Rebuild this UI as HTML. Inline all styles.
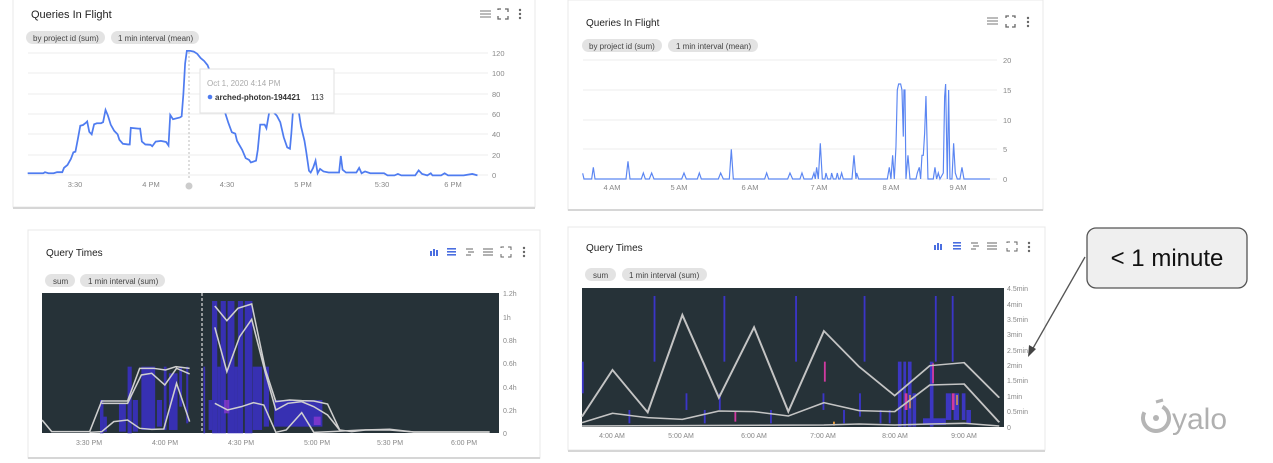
<!DOCTYPE html>
<html><head><meta charset="utf-8"><style>
html,body{margin:0;padding:0;background:#fff;}
svg{display:block;font-family:"Liberation Sans",sans-serif;}
</style></head><body>
<svg width="1273" height="463" viewBox="0 0 1273 463" xmlns="http://www.w3.org/2000/svg">
<rect width="1273" height="463" fill="#fff"/>

<!-- ========== Panel 1 ========== -->
<rect x="13" y="-2" width="522" height="209" fill="#fff" stroke="#e8e8e8"/>
<line x1="13" y1="208" x2="535" y2="208" stroke="#d6d6d6" stroke-width="2"/>
<text x="31" y="18" font-size="11" fill="#222">Queries In Flight</text>
<path d="M480 11h11M480 14h11M480 17h11" stroke="#777" stroke-width="1"/>
<g stroke="#666" fill="none" stroke-width="1.3"><path d="M498 10v-1h3M505 9h3v3M508 16v3h-3M501 19h-3v-3"/></g>
<g fill="#666"><circle cx="520" cy="10" r="1.2"/><circle cx="520" cy="14" r="1.2"/><circle cx="520" cy="18" r="1.2"/></g>
<rect x="26" y="31" width="79" height="13" rx="6.5" fill="#e3e3e3"/>
<text x="33" y="41" font-size="8" fill="#444">by project id (sum)</text>
<rect x="111" y="31" width="88" height="13" rx="6.5" fill="#e3e3e3"/>
<text x="118" y="41" font-size="8" fill="#444">1 min interval (mean)</text>
<g stroke="#eee" stroke-width="1">
<line x1="28" y1="53" x2="488" y2="53"/><line x1="28" y1="73" x2="488" y2="73"/><line x1="28" y1="94" x2="488" y2="94"/><line x1="28" y1="114" x2="488" y2="114"/><line x1="28" y1="134" x2="488" y2="134"/><line x1="28" y1="155" x2="488" y2="155"/><line x1="28" y1="175" x2="488" y2="175"/>
</g>
<g font-size="7.5" fill="#888">
<text x="492" y="56">120</text><text x="492" y="76">100</text><text x="492" y="97">80</text><text x="492" y="117">60</text><text x="492" y="137">40</text><text x="492" y="158">20</text><text x="492" y="178">0</text>
<text x="75" y="187" text-anchor="middle">3:30</text><text x="151" y="187" text-anchor="middle">4 PM</text><text x="227" y="187" text-anchor="middle">4:30</text><text x="303" y="187" text-anchor="middle">5 PM</text><text x="382" y="187" text-anchor="middle">5:30</text><text x="453" y="187" text-anchor="middle">6 PM</text>
</g>
<line x1="189" y1="52" x2="189" y2="178" stroke="#bbb" stroke-dasharray="2,2"/>
<circle cx="189" cy="186" r="3.5" fill="#ccc"/>
<g transform="matrix(0.346,0,0,0.3599,0,-13.9)">
<polyline fill="none" stroke="#4f7cf0" stroke-width="5" points="80,520 125,520 130,517 140,520 155,520 165,517 180,517 185,505 195,497 205,480 212,462 218,460 225,425 232,388 240,386 248,380 252,376 258,405 265,412 272,384 280,381 292,381 298,378 305,344 312,360 320,385 330,402 340,412 345,427 355,438 370,440 375,440 378,394 400,396 405,396 410,432 420,440 435,441 440,445 450,432 465,430 480,433 487,443 492,358 500,370 520,365 525,362 530,300 535,215 540,180 550,180 560,182 570,188 580,200 590,208 600,220 620,270 640,320 650,350 660,380 670,406 680,410 685,430 700,455 710,478 720,483 725,490 740,485 745,455 752,385 765,385 770,395 780,340 790,350 800,360 810,378 820,420 830,448 838,452 842,410 848,330 855,310 862,340 870,390 880,430 885,460 893,513 898,518 905,505 912,485 918,520 925,508 935,515 950,518 980,518 985,472 990,510 1000,518 1030,518 1038,505 1045,520 1055,515 1070,520 1110,520 1120,526 1140,526 1150,522 1160,526 1200,526 1210,512 1220,522 1235,526 1245,520 1250,526 1275,526 1285,520 1295,526 1340,526 1365,522 1380,526"/>
</g>
<rect x="200" y="69" width="134" height="44" fill="#fff" stroke="#e2e2e2"/>
<text x="207" y="86" font-size="8" fill="#aaa">Oct 1, 2020 4:14 PM</text>
<circle cx="210" cy="97" r="2.3" fill="#4f7cf0"/>
<text x="215" y="100" font-size="8" fill="#333" font-weight="bold">arched-photon-194421</text>
<text x="311" y="100" font-size="8" fill="#333">113</text>

<!-- ========== Panel 2 ========== -->
<rect x="28" y="230" width="512" height="228" fill="#fff" stroke="#e8e8e8"/>
<line x1="28" y1="458" x2="540" y2="458" stroke="#d6d6d6" stroke-width="2"/>
<text x="46" y="256" font-size="10" fill="#222">Query Times</text>
<g fill="#4a6ee0"><rect x="430" y="251" width="2" height="5"/><rect x="433" y="249" width="2" height="7"/><rect x="436" y="250" width="2" height="6"/><rect x="447" y="248" width="9" height="1.6"/><rect x="447" y="251" width="9" height="1.6"/><rect x="447" y="254" width="9" height="1.6"/></g>
<g stroke="#666" stroke-width="1" fill="none"><path d="M466 249h7M468 252h6M466 255h5M483 249h10M483 252h10M483 255h10"/><path d="M501 248v-1h3M508 247h3v3M511 254v3h-3M504 257h-3v-3"/></g>
<g fill="#666"><circle cx="524" cy="248" r="1.2"/><circle cx="524" cy="252" r="1.2"/><circle cx="524" cy="256" r="1.2"/></g>
<rect x="45" y="274" width="30" height="13" rx="6.5" fill="#e3e3e3"/><text x="53" y="284" font-size="8" fill="#444">sum</text>
<rect x="80" y="274" width="85" height="13" rx="6.5" fill="#e3e3e3"/><text x="88" y="284" font-size="8" fill="#444">1 min interval (sum)</text>
<rect x="42" y="293" width="457" height="140" fill="#263238"/>
<g font-size="7" fill="#888">
<text x="503" y="296">1.2h</text><text x="503" y="320">1h</text><text x="503" y="343">0.8h</text><text x="503" y="366">0.6h</text><text x="503" y="390">0.4h</text><text x="503" y="413">0.2h</text><text x="503" y="436">0</text>
<text x="89" y="445" text-anchor="middle">3:30 PM</text><text x="165" y="445" text-anchor="middle">4:00 PM</text><text x="241" y="445" text-anchor="middle">4:30 PM</text><text x="317" y="445" text-anchor="middle">5:00 PM</text><text x="390" y="445" text-anchor="middle">5:30 PM</text><text x="464" y="445" text-anchor="middle">6:00 PM</text>
</g>
<g transform="translate(0,230) scale(0.3448,0.3333)">
<g fill="#3a30c8" opacity="0.85">
<rect x="290" y="510" width="10" height="100"/><rect x="300" y="560" width="10" height="45"/><rect x="345" y="520" width="20" height="85"/><rect x="370" y="410" width="12" height="200"/><rect x="385" y="510" width="15" height="95"/>
<rect x="410" y="410" width="40" height="190"/><rect x="455" y="510" width="15" height="80"/><rect x="475" y="410" width="8" height="190"/><rect x="490" y="430" width="25" height="170"/><rect x="520" y="410" width="8" height="120"/><rect x="540" y="410" width="6" height="170"/>
<rect x="590" y="410" width="5" height="200"/><rect x="605" y="510" width="10" height="90"/>
<rect x="615" y="213" width="15" height="397"/><rect x="640" y="213" width="15" height="397"/><rect x="660" y="213" width="20" height="397"/><rect x="690" y="213" width="15" height="397"/><rect x="710" y="213" width="22" height="397"/>
<rect x="630" y="410" width="10" height="200"/><rect x="680" y="410" width="10" height="200"/><rect x="733" y="410" width="27" height="190"/>
<rect x="765" y="410" width="15" height="180"/><rect x="795" y="510" width="140" height="80"/>
</g>
<rect x="650" y="510" width="15" height="40" fill="#8a3ad0" opacity="0.8"/><rect x="910" y="560" width="20" height="25" fill="#8a3ad0" opacity="0.8"/>
<g fill="none" stroke="#cfcfcf" stroke-width="4.5">
<polyline points="122,570 150,605 260,605 295,513 370,513 405,415 445,415 480,420 510,410 550,415"/>
<polyline points="295,520 370,520 410,435 440,430 478,465 512,415 550,432"/>
<polyline points="260,607 295,605 330,575 370,570 405,595 440,598 475,597 512,460 550,575"/>
<polyline points="623,228 658,272 690,235 730,222 770,420 800,515 840,510 875,512 910,513 950,522 985,600 1020,605 1060,600 1130,600 1200,606 1300,606 1420,606"/>
<polyline points="623,292 658,425 695,320 730,268 770,430 800,540 835,520 875,515 910,530 950,555 985,600"/>
<polyline points="623,520 660,540 700,530 735,518 765,525 800,607 830,600 875,548 910,607 960,605 1050,600 1130,598 1200,606 1300,606 1420,606"/>
</g>
</g>
<line x1="202" y1="293" x2="202" y2="433" stroke="#ddd" stroke-width="1.2" stroke-dasharray="3,2"/>

<!-- ========== Panel 3 ========== -->
<rect x="568" y="0" width="475" height="210" fill="#fff" stroke="#e8e8e8"/>
<line x1="568" y1="210" x2="1043" y2="210" stroke="#d6d6d6" stroke-width="2"/>
<text x="586" y="26" font-size="10" fill="#222">Queries In Flight</text>
<path d="M987 18h11M987 21h11M987 24h11" stroke="#777" stroke-width="1"/>
<g stroke="#666" fill="none" stroke-width="1.3"><path d="M1006 18v-2h3M1012 16h3v2M1015 24v3h-3M1009 27h-3v-3"/></g>
<g fill="#666"><circle cx="1028" cy="18" r="1.2"/><circle cx="1028" cy="22" r="1.2"/><circle cx="1028" cy="26" r="1.2"/></g>
<rect x="582" y="39" width="80" height="13" rx="6.5" fill="#e3e3e3"/><text x="589" y="49" font-size="8" fill="#444">by project id (sum)</text>
<rect x="668" y="39" width="90" height="13" rx="6.5" fill="#e3e3e3"/><text x="676" y="49" font-size="8" fill="#444">1 min interval (mean)</text>
<g stroke="#eee"><line x1="583" y1="60" x2="997" y2="60"/><line x1="583" y1="90" x2="997" y2="90"/><line x1="583" y1="120" x2="997" y2="120"/><line x1="583" y1="149" x2="997" y2="149"/><line x1="583" y1="179" x2="997" y2="179"/></g>
<g font-size="7.5" fill="#888">
<text x="1003" y="63">20</text><text x="1003" y="93">15</text><text x="1003" y="123">10</text><text x="1003" y="152">5</text><text x="1003" y="182">0</text>
<text x="612" y="190" text-anchor="middle">4 AM</text><text x="679" y="190" text-anchor="middle">5 AM</text><text x="750" y="190" text-anchor="middle">6 AM</text><text x="819" y="190" text-anchor="middle">7 AM</text><text x="891" y="190" text-anchor="middle">8 AM</text><text x="958" y="190" text-anchor="middle">9 AM</text>
</g>
<g transform="translate(560,0) scale(0.3333)">
<polyline fill="none" stroke="#5b86f2" stroke-width="3.5" points="68,520 72,537 95,537 100,502 105,537 198,537 204,484 210,537 244,537 250,519 256,537 268,537 275,519 282,537 365,537 372,519 379,537 412,537 418,519 424,537 475,537 482,519 490,537 508,537 514,448 520,537 614,537 620,519 626,537 683,537 690,519 698,537 720,537 726,519 732,537 756,537 762,519 766,537 770,502 775,537 781,430 787,537 795,537 798,519 803,537 812,537 815,519 820,537 828,537 832,519 836,537 840,537 845,519 850,537 876,537 882,466 888,537 890,519 896,537 982,537 988,502 993,537 998,466 1003,537 1008,440 1012,270 1016,252 1022,252 1026,270 1030,410 1032,270 1035,270 1038,537 1044,466 1050,537 1068,537 1072,519 1078,502 1082,537 1086,466 1090,466 1094,400 1098,288 1104,537 1120,537 1125,502 1130,537 1135,519 1140,537 1150,519 1154,290 1157,252 1162,537 1166,270 1170,537 1176,537 1181,430 1186,519 1192,537 1200,537 1206,502 1212,537 1290,537"/>
</g>

<!-- ========== Panel 4 ========== -->
<rect x="568" y="227" width="477" height="223" fill="#fff" stroke="#e8e8e8"/>
<line x1="568" y1="451" x2="1045" y2="451" stroke="#d6d6d6" stroke-width="2"/>
<text x="586" y="251" font-size="10" fill="#222">Query Times</text>
<g fill="#4a6ee0"><rect x="934" y="245" width="2" height="5"/><rect x="937" y="243" width="2" height="7"/><rect x="940" y="244" width="2" height="6"/><rect x="953" y="242" width="8" height="1.6"/><rect x="953" y="245" width="8" height="1.6"/><rect x="953" y="248" width="8" height="1.6"/></g>
<g stroke="#666" stroke-width="1" fill="none"><path d="M971 243h7M973 246h6M971 249h5M987 243h10M987 246h10M987 249h10"/><path d="M1007 243v-1h3M1014 242h3v3M1017 248v3h-3M1010 251h-3v-3"/></g>
<g fill="#666"><circle cx="1029" cy="243" r="1.2"/><circle cx="1029" cy="247" r="1.2"/><circle cx="1029" cy="251" r="1.2"/></g>
<rect x="585" y="268" width="31" height="13" rx="6.5" fill="#e3e3e3"/><text x="593" y="278" font-size="8" fill="#444">sum</text>
<rect x="622" y="268" width="85" height="13" rx="6.5" fill="#e3e3e3"/><text x="629" y="278" font-size="8" fill="#444">1 min interval (sum)</text>
<rect x="582" y="288" width="422" height="139" fill="#263238"/>
<g font-size="7" fill="#888">
<text x="1007" y="291">4.5min</text><text x="1007" y="307">4min</text><text x="1007" y="322">3.5min</text><text x="1007" y="337">3min</text><text x="1007" y="353">2.5min</text><text x="1007" y="368">2min</text><text x="1007" y="383">1.5min</text><text x="1007" y="399">1min</text><text x="1007" y="414">0.5min</text><text x="1007" y="430">0</text>
<text x="612" y="438" text-anchor="middle">4:00 AM</text><text x="681" y="438" text-anchor="middle">5:00 AM</text><text x="754" y="438" text-anchor="middle">6:00 AM</text><text x="823" y="438" text-anchor="middle">7:00 AM</text><text x="895" y="438" text-anchor="middle">8:00 AM</text><text x="964" y="438" text-anchor="middle">9:00 AM</text>
</g>
<g transform="translate(560,220) scale(0.4566,0.3333)">
<g fill="#3b35c8">
<rect x="205" y="228" width="4" height="197"/><rect x="358" y="228" width="4" height="197"/><rect x="515" y="228" width="4" height="197"/><rect x="665" y="228" width="4" height="197"/><rect x="821" y="228" width="4" height="197"/><rect x="858" y="228" width="4" height="197"/>
<rect x="48" y="425" width="4" height="95"/><rect x="275" y="520" width="4" height="50"/><rect x="348" y="520" width="4" height="50"/><rect x="655" y="520" width="4" height="70"/><rect x="575" y="520" width="4" height="50"/><rect x="150" y="570" width="4" height="40"/><rect x="315" y="570" width="4" height="40"/><rect x="460" y="570" width="4" height="40"/><rect x="620" y="570" width="4" height="40"/><rect x="700" y="570" width="4" height="40"/><rect x="720" y="570" width="4" height="40"/>
</g>
<g fill="#3f38d0" opacity="0.9">
<rect x="740" y="425" width="8" height="195"/><rect x="752" y="425" width="6" height="195"/><rect x="762" y="425" width="8" height="195"/><rect x="772" y="520" width="8" height="100"/>
<rect x="810" y="425" width="8" height="195"/><rect x="845" y="520" width="12" height="80"/><rect x="862" y="520" width="12" height="80"/><rect x="880" y="520" width="8" height="80"/><rect x="795" y="595" width="50" height="20"/><rect x="890" y="570" width="10" height="40"/>
</g>
<g fill="#d03aa0"><rect x="755" y="520" width="6" height="50"/><rect x="858" y="520" width="6" height="50"/><rect x="382" y="575" width="4" height="30"/><rect x="815" y="430" width="4" height="60"/><rect x="578" y="425" width="4" height="60"/></g>
<g fill="#f0a040"><rect x="765" y="525" width="3" height="40"/><rect x="868" y="525" width="3" height="30"/><rect x="598" y="605" width="4" height="12"/></g>
<g fill="none" stroke="#c4c4c4" stroke-width="4.5">
<polyline points="48,590 115,450 192,577 268,285 348,533 425,322 500,575 578,333 655,440 733,527 810,437 885,428 962,533"/>
<polyline points="48,608 115,580 192,593 268,598 348,573 425,575 500,588 578,548 655,572 733,575 810,495 885,492 962,607"/>
<polyline points="48,618 578,615 655,612 733,615 810,612 885,610 962,618"/>
</g>
</g>

<!-- Callout -->
<rect x="1087" y="228" width="160" height="60" rx="9" fill="#efefef" stroke="#555" stroke-width="1.3"/>
<text x="1167" y="266" font-size="24" fill="#111" text-anchor="middle">&lt; 1 minute</text>
<line x1="1085" y1="257" x2="1032" y2="350" stroke="#555" stroke-width="1.3"/>
<path d="M1028 357 L1029 345 L1036 349 Z" fill="#444"/>

<!-- yalo logo -->
<circle cx="1156" cy="418" r="13" fill="none" stroke="#b5b5b5" stroke-width="4" stroke-dasharray="60,22" transform="rotate(-60 1156 418)"/>
<circle cx="1156" cy="418" r="3" fill="#b5b5b5"/>
<line x1="1156" y1="402" x2="1163" y2="400" stroke="#b5b5b5" stroke-width="3"/>
<text x="1172" y="429" font-size="30" fill="#b0b0b0">yalo</text>
</svg>
</body></html>
